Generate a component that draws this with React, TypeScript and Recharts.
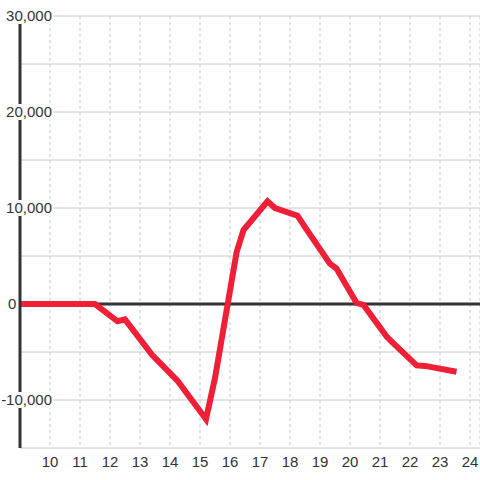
import { LineChart, Line, XAxis, YAxis, CartesianGrid, ReferenceLine } from 'recharts';

const hours = [9, 11.5, 12.25, 12.5, 13.4, 14.25, 15.2, 15.5, 16.22, 16.45, 17.25, 17.5, 18.25, 18.5, 19.33, 19.55, 20.22, 20.45, 21.22, 21.45, 22.22, 22.5, 23.55];
const values = [0, 0, -1800, -1600, -5300, -8000, -12000, -7700, 5400, 7700, 10700, 10000, 9200, 8000, 4200, 3700, 100, -100, -3400, -4100, -6400, -6450, -7050];

const xTicks = [10, 11, 12, 13, 14, 15, 16, 17, 18, 19, 20, 21, 22, 23, 24];
const yTicks = [-15000, -10000, -5000, 0, 5000, 10000, 15000, 20000, 25000, 30000];
const yLabelled = [-10000, 0, 10000, 20000, 30000];

const data = hours.map((h, i) => ({ hour: h, value: values[i] }));

const FONT = '"Liberation Sans", Arial, sans-serif';
const FS = 15;

// rough text width for Arial-like digits
const textWidth = (s: string) =>
  s.split('').reduce((w, c) => w + (c === ',' ? 0.278 : c === '-' ? 0.333 : 0.556) * FS, 0);

const YTick = (props: any) => {
  const { y, payload } = props;
  const v = payload.value;
  if (!yLabelled.includes(v)) return <g />;
  const label = v.toLocaleString('en-US');
  const w = textWidth(label);
  const isZero = v === 0;
  const x = isZero ? 8 : 52;
  const left = isZero ? 7 : x - w - 2;
  const right = isZero ? 17 : 53;
  return (
    <g>
      <rect x={left} y={y - 8} width={right - left} height={16} fill="#fff" />
      <text
        x={x}
        y={y}
        dy="0.35em"
        textAnchor={isZero ? 'start' : 'end'}
        fill="#333"
        fontSize={FS}
        fontFamily={FONT}
      >
        {label}
      </text>
    </g>
  );
};

export default function App() {
  return (
    <div style={{ position: 'absolute', left: 0, top: 0, width: 480, height: 480, background: '#fff' }}>
      <LineChart width={480} height={480} data={data} margin={{ top: 16, right: 0, bottom: 0, left: 0 }}>
        <CartesianGrid horizontal={false} stroke="#c8c8c8" strokeDasharray="3 3" />
        <CartesianGrid vertical={false} stroke="#c8c8c8" />
        <XAxis
          dataKey="hour"
          type="number"
          domain={[9, 24.3333]}
          ticks={xTicks}
          height={32}
          axisLine={false}
          tickLine={false}
          tick={{ fill: '#333', fontSize: FS, fontFamily: FONT }}
          allowDataOverflow
        />
        <YAxis
          type="number"
          domain={[-15000, 30000]}
          ticks={yTicks}
          width={20}
          axisLine={{ stroke: '#333', strokeWidth: 3 }}
          tickLine={false}
          tick={<YTick />}
          interval={0}
          allowDataOverflow
        />
        <ReferenceLine y={0} stroke="#333" strokeWidth={3} />
        <Line
          dataKey="value"
          stroke="#ee1f37"
          strokeWidth={6}
          dot={false}
          activeDot={false}
          isAnimationActive={false}
        />
      </LineChart>
    </div>
  );
}
